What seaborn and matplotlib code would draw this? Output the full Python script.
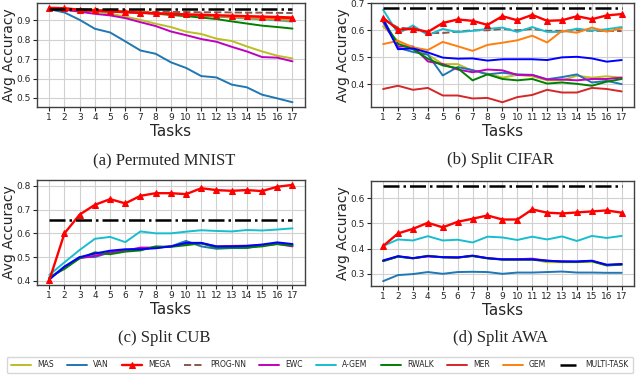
import numpy as np
import matplotlib
matplotlib.use('Agg')
import matplotlib.pyplot as plt
from matplotlib.ticker import MultipleLocator
import seaborn as sns

tasks = list(range(1, 18))

colors = {'MAS': '#bcbd22', 'VAN': '#1f77b4', 'MEGA': '#ff0000', 'PROG-NN': '#8c564b',
          'EWC': '#bf00bf', 'A-GEM': '#17becf', 'RWALK': '#008000', 'MER': '#d62728',
          'GEM': '#ff7f0e', 'extra': '#0000ff'}

# (a) Permuted MNIST
mnist = {
    'MAS': [0.962, 0.957, 0.952, 0.946, 0.935, 0.920, 0.903, 0.883, 0.866, 0.842, 0.830, 0.806, 0.794, 0.766, 0.740, 0.718, 0.704],
    'VAN': [0.958, 0.941, 0.903, 0.857, 0.838, 0.792, 0.745, 0.728, 0.684, 0.655, 0.613, 0.606, 0.569, 0.555, 0.517, 0.498, 0.478],
    'EWC': [0.960, 0.955, 0.945, 0.934, 0.926, 0.912, 0.891, 0.871, 0.843, 0.824, 0.804, 0.790, 0.764, 0.740, 0.711, 0.708, 0.689],
    'RWALK': [0.960, 0.958, 0.955, 0.952, 0.948, 0.944, 0.940, 0.935, 0.928, 0.922, 0.915, 0.907, 0.895, 0.884, 0.873, 0.866, 0.858],
    'A-GEM': [0.962, 0.960, 0.957, 0.953, 0.949, 0.945, 0.941, 0.937, 0.933, 0.929, 0.925, 0.920, 0.915, 0.910, 0.905, 0.900, 0.894],
    'MER': [0.962, 0.958, 0.953, 0.949, 0.945, 0.941, 0.938, 0.935, 0.932, 0.929, 0.926, 0.923, 0.920, 0.917, 0.914, 0.911, 0.908],
    'GEM': [0.963, 0.961, 0.958, 0.955, 0.951, 0.947, 0.943, 0.939, 0.935, 0.931, 0.927, 0.923, 0.918, 0.914, 0.909, 0.905, 0.900],
    'PROG-NN': [0.955, 0.952, 0.950, 0.948, 0.947, 0.946, 0.945, 0.944, 0.944, 0.943, 0.942, 0.942, 0.941, 0.940, 0.940, 0.939, 0.938],
    'MEGA': [0.965, 0.963, 0.955, 0.952, 0.948, 0.944, 0.940, 0.937, 0.934, 0.931, 0.929, 0.927, 0.924, 0.922, 0.920, 0.918, 0.915],
}
mnist_multi = 0.957

# (b) Split CIFAR
cifar = {
    'MAS': [0.615, 0.560, 0.535, 0.510, 0.475, 0.475, 0.450, 0.440, 0.425, 0.435, 0.430, 0.415, 0.415, 0.432, 0.425, 0.430, 0.425],
    'VAN': [0.645, 0.535, 0.520, 0.510, 0.433, 0.464, 0.453, 0.437, 0.443, 0.437, 0.435, 0.419, 0.427, 0.437, 0.407, 0.413, 0.401],
    'EWC': [0.630, 0.540, 0.540, 0.485, 0.475, 0.455, 0.445, 0.455, 0.452, 0.435, 0.435, 0.418, 0.418, 0.415, 0.420, 0.420, 0.425],
    'RWALK': [0.635, 0.550, 0.530, 0.495, 0.470, 0.460, 0.415, 0.437, 0.420, 0.415, 0.420, 0.403, 0.407, 0.402, 0.395, 0.410, 0.420],
    'extra': [0.640, 0.530, 0.533, 0.518, 0.499, 0.495, 0.496, 0.488, 0.493, 0.493, 0.493, 0.490, 0.500, 0.502, 0.496, 0.484, 0.490],
    'MER': [0.383, 0.395, 0.380, 0.387, 0.359, 0.359, 0.348, 0.350, 0.334, 0.353, 0.361, 0.380, 0.370, 0.370, 0.387, 0.383, 0.374],
    'GEM': [0.549, 0.561, 0.537, 0.527, 0.557, 0.541, 0.524, 0.546, 0.554, 0.563, 0.580, 0.555, 0.598, 0.591, 0.610, 0.595, 0.607],
    'PROG-NN': [0.640, 0.610, 0.605, 0.590, 0.590, 0.595, 0.600, 0.600, 0.605, 0.600, 0.605, 0.598, 0.598, 0.600, 0.598, 0.598, 0.597],
    'A-GEM': [0.676, 0.588, 0.618, 0.582, 0.605, 0.593, 0.598, 0.605, 0.610, 0.594, 0.612, 0.594, 0.594, 0.606, 0.599, 0.604, 0.612],
    'MEGA': [0.646, 0.602, 0.606, 0.594, 0.627, 0.640, 0.635, 0.620, 0.652, 0.637, 0.657, 0.635, 0.637, 0.652, 0.641, 0.655, 0.660],
}
cifar_multi = 0.683

# (c) Split CUB
cub = {
    'MAS': [0.412, 0.455, 0.498, 0.508, 0.518, 0.528, 0.535, 0.540, 0.545, 0.556, 0.558, 0.542, 0.544, 0.545, 0.550, 0.558, 0.550],
    'VAN': [0.410, 0.460, 0.500, 0.500, 0.520, 0.530, 0.535, 0.540, 0.545, 0.568, 0.545, 0.535, 0.538, 0.538, 0.550, 0.558, 0.552],
    'EWC': [0.410, 0.455, 0.495, 0.505, 0.520, 0.527, 0.540, 0.540, 0.545, 0.555, 0.558, 0.545, 0.547, 0.548, 0.550, 0.555, 0.545],
    'RWALK': [0.415, 0.450, 0.495, 0.520, 0.512, 0.523, 0.528, 0.545, 0.543, 0.550, 0.558, 0.540, 0.540, 0.540, 0.545, 0.555, 0.548],
    'extra': [0.405, 0.460, 0.500, 0.515, 0.527, 0.533, 0.533, 0.537, 0.545, 0.560, 0.560, 0.545, 0.545, 0.547, 0.553, 0.562, 0.555],
    'A-GEM': [0.425, 0.478, 0.530, 0.577, 0.585, 0.563, 0.608, 0.600, 0.600, 0.607, 0.613, 0.610, 0.608, 0.614, 0.612, 0.616, 0.621],
    'MEGA': [0.402, 0.600, 0.679, 0.720, 0.744, 0.726, 0.758, 0.769, 0.769, 0.765, 0.790, 0.782, 0.779, 0.782, 0.778, 0.796, 0.804],
}
cub_multi = 0.655

# (d) Split AWA
awa = {
    'MAS': [0.352, 0.368, 0.362, 0.372, 0.366, 0.363, 0.372, 0.362, 0.357, 0.356, 0.357, 0.346, 0.346, 0.346, 0.348, 0.334, 0.337],
    'VAN': [0.271, 0.295, 0.299, 0.307, 0.300, 0.307, 0.308, 0.307, 0.300, 0.305, 0.305, 0.307, 0.309, 0.305, 0.305, 0.304, 0.304],
    'EWC': [0.351, 0.369, 0.362, 0.369, 0.366, 0.364, 0.371, 0.362, 0.358, 0.358, 0.360, 0.352, 0.349, 0.348, 0.351, 0.335, 0.337],
    'RWALK': [0.350, 0.368, 0.361, 0.371, 0.365, 0.365, 0.370, 0.361, 0.356, 0.356, 0.356, 0.351, 0.348, 0.347, 0.350, 0.333, 0.336],
    'extra': [0.353, 0.370, 0.362, 0.370, 0.366, 0.365, 0.372, 0.362, 0.357, 0.357, 0.357, 0.352, 0.349, 0.349, 0.352, 0.336, 0.339],
    'A-GEM': [0.410, 0.436, 0.432, 0.449, 0.432, 0.435, 0.424, 0.447, 0.444, 0.434, 0.447, 0.436, 0.448, 0.430, 0.450, 0.442, 0.450],
    'MEGA': [0.410, 0.460, 0.478, 0.502, 0.484, 0.506, 0.518, 0.531, 0.515, 0.515, 0.555, 0.542, 0.539, 0.543, 0.547, 0.551, 0.542],
}
awa_multi = 0.649

captions = ['(a) Permuted MNIST', '(b) Split CIFAR', '(c) Split CUB', '(d) Split AWA']

sns.set_style('whitegrid', {'axes.edgecolor': '0.25', 'grid.color': '0.82',
                            'xtick.bottom': True, 'ytick.left': True})
plt.rcParams['font.family'] = ['DejaVu Sans']

fig = plt.figure(figsize=(6.4, 3.89), dpi=100)
positions = [[0.058, 0.725, 0.418, 0.267], [0.58, 0.725, 0.41, 0.267],
             [0.058, 0.267, 0.418, 0.27], [0.58, 0.265, 0.41, 0.27]]
caption_pos = [(0.256, 0.588), (0.782, 0.588), (0.256, 0.132), (0.782, 0.132)]


def draw_panel(ax, data, multi):
    for name in ['MAS', 'VAN', 'MEGA', 'PROG-NN', 'EWC', 'A-GEM', 'RWALK', 'MER', 'GEM', 'extra']:
        if name not in data:
            continue
        vals = data[name]
        if name == 'MEGA':
            sns.lineplot(x=tasks, y=vals, ax=ax, color=colors[name], lw=1.7, marker='^',
                         markersize=4.5, markeredgecolor=colors[name], label=name, legend=False, zorder=5)
        elif name == 'PROG-NN':
            sns.lineplot(x=tasks, y=vals, ax=ax, color=colors[name], lw=1.4, linestyle='--',
                         label=name, legend=False)
        elif name == 'extra':
            sns.lineplot(x=tasks, y=vals, ax=ax, color=colors[name], lw=1.4, label='_nolegend_', legend=False)
        else:
            sns.lineplot(x=tasks, y=vals, ax=ax, color=colors[name], lw=1.4, label=name, legend=False)
    sns.lineplot(x=tasks, y=[multi] * len(tasks), ax=ax, color='black', lw=1.8,
                 linestyle='-.', label='MULTI-TASK', legend=False, zorder=6)
    ax.set_xticks(tasks)
    ax.yaxis.set_major_locator(MultipleLocator(0.1))
    ax.tick_params(axis='both', labelsize=6.5, length=3, width=0.8, pad=1.5)
    ax.set_xlabel('Tasks', fontsize=11, labelpad=1)
    ax.set_ylabel('Avg Accuracy', fontsize=10, labelpad=0.5)
    for s in ax.spines.values():
        s.set_linewidth(1.0)


axes = []
for i, (data, multi) in enumerate([(mnist, mnist_multi), (cifar, cifar_multi),
                                   (cub, cub_multi), (awa, awa_multi)]):
    ax = fig.add_axes(positions[i])
    draw_panel(ax, data, multi)
    fig.text(caption_pos[i][0], caption_pos[i][1], captions[i], ha='center', va='center',
             fontsize=12, family='Liberation Serif')
    axes.append(ax)

handles, labels = axes[0].get_legend_handles_labels()
order = ['MAS', 'VAN', 'MEGA', 'PROG-NN', 'EWC', 'A-GEM', 'RWALK', 'MER', 'GEM', 'MULTI-TASK']
hmap = dict(zip(labels, handles))
fig.legend([hmap[k] for k in order], order, loc='center', bbox_to_anchor=(0.5, 0.062),
           ncol=10, fontsize=5.5, frameon=True, handlelength=2.6, columnspacing=1.75,
           handletextpad=0.8, borderpad=0.5, fancybox=True, edgecolor='0.8')

fig.savefig('out.png', dpi=100)
